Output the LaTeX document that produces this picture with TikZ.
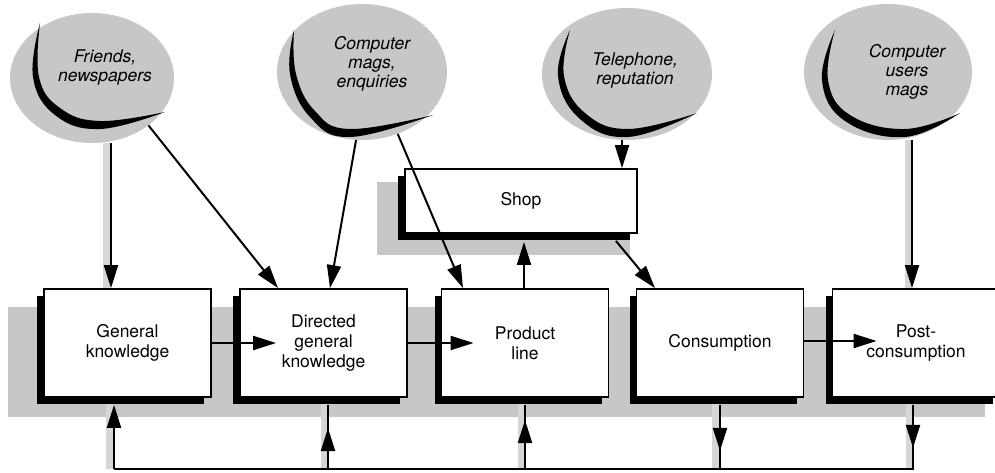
\documentclass[tikz,border=0pt]{standalone}
\usepackage{fontspec}
\setmainfont{TeX Gyre Heros}
\usetikzlibrary{arrows.meta,shapes.geometric,shadows,calc}
\begin{document}
\begin{tikzpicture}[x=1pt,y=-1pt,
  stip/.style={fill=black!22},
  lstrip/.style={fill=black!16},
  boxnode/.style={draw, line width=1.8pt, fill=white, minimum width=167pt, minimum height=108pt,
    inner sep=0pt, align=center, font=\fontsize{17.5}{20}\selectfont,
    general shadow={fill=black, shadow xshift=-7pt, shadow yshift=-7pt}},
  cloudshape/.style={ellipse, fill=black!22, inner sep=0pt},
  cloudtext/.style={align=center, inner sep=0pt, font=\itshape\fontsize{17.5}{19}\selectfont},
  conn/.style={line width=2pt, -{Triangle[length=23pt,width=14pt]}},
  plainline/.style={line width=2pt, line join=miter},
  cres/.style={fill=black}
]
\useasboundingbox (0,0) rectangle (995,473);
\begin{scope}
\clip (0,0) rectangle (995,473);
% gray backgrounds
\fill[stip] (8,307) rectangle (985,417);
\fill[stip] (377,182) rectangle (630,255);
\fill[lstrip] (103,143) rectangle (110,289);
\fill[lstrip] (905,140) rectangle (911,289);
\fill[lstrip] (106,404) rectangle (113,469);
\fill[lstrip] (321,404) rectangle (327,469);
\fill[lstrip] (518,404) rectangle (524,469);
\fill[lstrip] (712,404) rectangle (719,469);
\fill[lstrip] (906,404) rectangle (912,469);

% clouds
\node[cloudshape, minimum width=164pt, minimum height=130pt] (c1) at (92,78) {};
\node[cloudshape, minimum width=170pt, minimum height=136pt] (c2) at (362,72) {};
\node[cloudshape, minimum width=170pt, minimum height=132pt] (c3) at (627,74) {};
\node[cloudshape, minimum width=168pt, minimum height=136pt] (c4) at (888,72) {};

\fill[cres] plot[smooth, tension=0.7] coordinates {(40,23) (33,77) (55,115) (100,129) (165,112)}
  -- plot[smooth, tension=0.7] coordinates {(165,112) (100,121) (60,108) (39,77) (40,23)} -- cycle;
\fill[cres] plot[smooth, tension=0.7] coordinates {(294,30) (290,74) (310,117) (350,137) (433,115)}
  -- plot[smooth, tension=0.7] coordinates {(433,115) (350,129) (315,111) (296,74) (294,30)} -- cycle;
\fill[cres] plot[smooth, tension=0.7] coordinates {(570,30) (558,76) (580,119) (628,137) (697,113)}
  -- plot[smooth, tension=0.7] coordinates {(697,113) (628,129) (585,113) (564,76) (570,30)} -- cycle;
\fill[cres] plot[smooth, tension=0.7] coordinates {(835,30) (822,80) (845,121) (905,137) (960,113)}
  -- plot[smooth, tension=0.7] coordinates {(960,113) (905,129) (850,115) (828,80) (835,30)} -- cycle;

\node[cloudtext] (t1) at (105,67) {Friends,\\newspapers};
\node[cloudtext] (t2) at (372,64) {Computer\\mags,\\enquiries};
\node[cloudtext] (t3) at (635,70) {Telephone,\\reputation};
\node[cloudtext] (t4) at (907,72) {Computer\\users\\mags};

% boxes
\node[boxnode] (gk) at (127.5,343) {General\\knowledge};
\node[boxnode] (dgk) at (323.5,343) {Directed\\general\\knowledge};
\node[boxnode] (pl) at (525,343) {Product\\line};
\node[boxnode] (cons) at (720,343) {Consumption};
\node[boxnode] (post) at (916,343) {Post-\\consumption};
\node[boxnode, minimum width=232pt, minimum height=64pt] (shop) at (521,201) {Shop};

\coordinate (gkb) at ([yshift=-7pt]gk.south);
\coordinate (dgkb) at ([yshift=-7pt]dgk.south);
\coordinate (plb) at ([yshift=-7pt]pl.south);
\coordinate (consb) at ([yshift=-7pt]cons.south);
\coordinate (postb) at ([yshift=-7pt]post.south);

% arrows from sources
\draw[conn] ([xshift=-16.5pt]gk.north |- c1.south) -- ([xshift=-16.5pt]gk.north);
\draw[conn] (c1.-40) -- ([xshift=-45.5pt]dgk.north);
\draw[conn] (c2.-95) -- ([xshift=6.5pt]dgk.north);
\draw[conn] (c2.-60) -- ([xshift=-62pt]pl.north);
\draw[conn] ([xshift=101pt]shop.north |- c3.south) -- ([xshift=101pt]shop.north);
\draw[conn] ([shift={(-22pt,-7pt)}]shop.south east) -- ([xshift=-65pt]cons.north);
\draw[conn] ([xshift=-1pt]pl.north) -- ([xshift=3pt,yshift=-8pt]shop.south);
\draw[conn] ([xshift=-4pt]post.north |- c4.south) -- ([xshift=-4pt]post.north);

% horizontal flow
\draw[conn] (gk.east) -- ([xshift=37pt]dgk.west);
\draw[conn] (dgk.east) -- ([xshift=33pt]pl.west);
\draw[conn] ([yshift=2pt]cons.east) -- ([xshift=45pt,yshift=2pt]post.west);

% feedback loop
\coordinate (f1) at (114,469);
\coordinate (f2) at (328,469);
\coordinate (f3) at (525,469);
\coordinate (f4) at (720,469);
\coordinate (f5) at (913,469);
\draw[plainline] (f1) -- (f5) -- (f5 |- postb);
\draw[conn] (f1) -- (f1 |- gkb);
\draw[plainline] (f2) -- (f2 |- dgkb);
\draw[conn] (f2) -- ++(0,-41);
\draw[plainline] (f3) -- (f3 |- plb);
\draw[conn] (f3) -- ++(0,-49);
\draw[plainline] (f4 |- consb) -- (f4);
\draw[conn] (f4 |- consb) -- ++(0,46);
\draw[conn] (f5 |- postb) -- ++(0,43);
\end{scope}
\end{tikzpicture}
\end{document}
